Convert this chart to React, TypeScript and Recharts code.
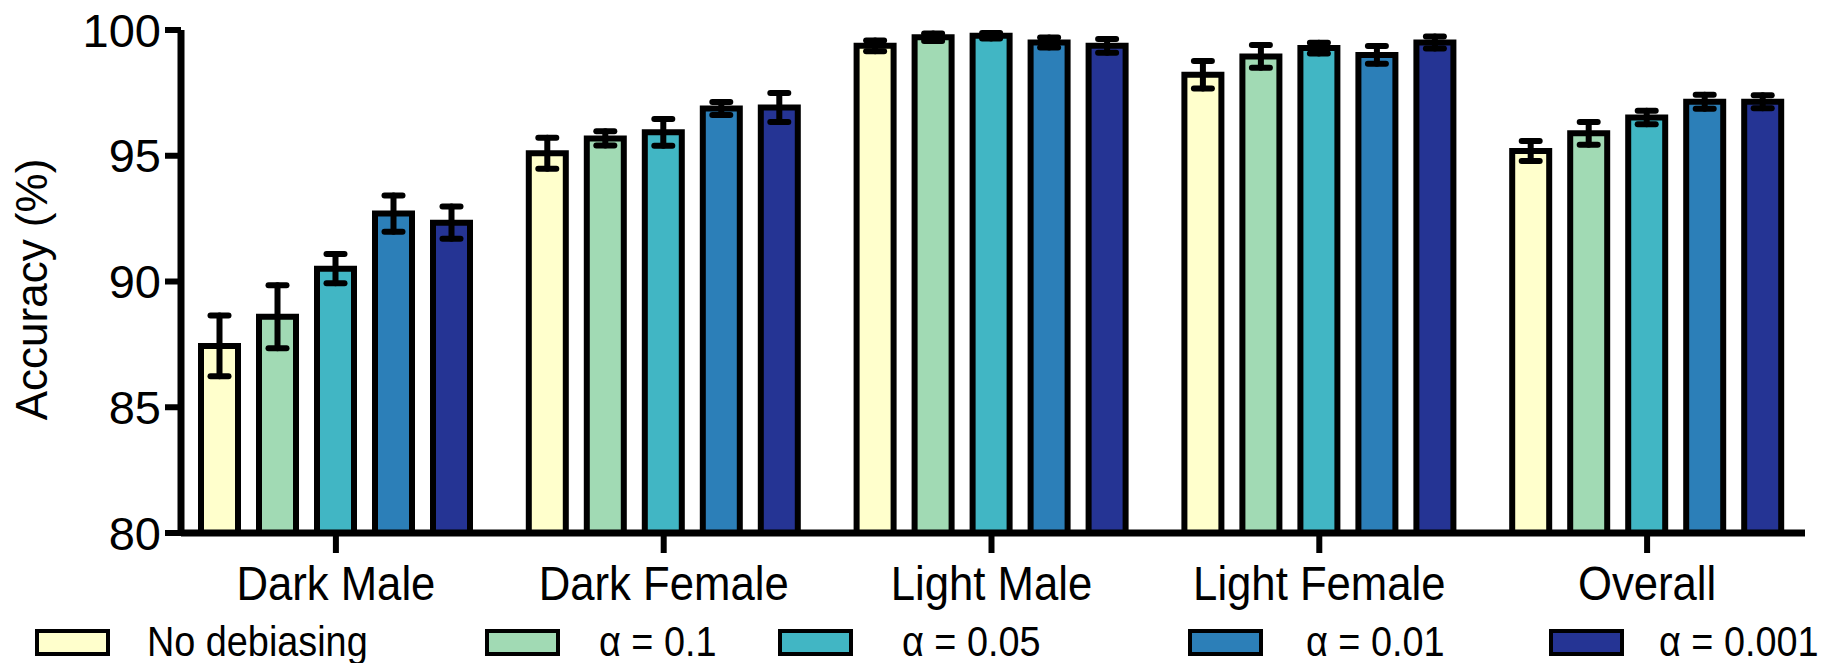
import React from 'react';
import { BarChart, Bar, XAxis, YAxis, ErrorBar, Legend } from 'recharts';

const categories = ['Dark Male', 'Dark Female', 'Light Male', 'Light Female', 'Overall'];
const seriesNames = ['No debiasing', 'α = 0.1', 'α = 0.05', 'α = 0.01', 'α = 0.001'];
const seriesKeys = ['s0', 's1', 's2', 's3', 's4'];

const noDebiasing = [87.44, 95.1, 99.37, 98.22, 95.19];
const noDebiasingErr = [1.21, 0.62, 0.21, 0.55, 0.4];
const alpha0_1 = [88.6, 95.69, 99.71, 98.95, 95.89];
const alpha0_1Err = [1.25, 0.28, 0.15, 0.45, 0.45];
const alpha0_05 = [90.51, 95.93, 99.77, 99.28, 96.52];
const alpha0_05Err = [0.58, 0.53, 0.11, 0.21, 0.27];
const alpha0_01 = [92.7, 96.88, 99.5, 99.01, 97.15];
const alpha0_01Err = [0.72, 0.26, 0.2, 0.35, 0.28];
const alpha0_001 = [92.34, 96.92, 99.37, 99.5, 97.15];
const alpha0_001Err = [0.64, 0.58, 0.27, 0.24, 0.26];

const yTicks = [80, 85, 90, 95, 100];
const colors = ['#ffffcc', '#a1dab4', '#41b6c4', '#2c7fb8', '#253494'];

const seriesValues = [noDebiasing, alpha0_1, alpha0_05, alpha0_01, alpha0_001];
const seriesErrors = [noDebiasingErr, alpha0_1Err, alpha0_05Err, alpha0_01Err, alpha0_001Err];

const data = categories.map((c, i) => {
  const row: Record<string, any> = { name: c };
  seriesKeys.forEach((k, j) => {
    row[k] = seriesValues[j][i];
    row[k + 'e'] = seriesErrors[j][i];
  });
  return row;
});

const FONT = "'Liberation Sans', Arial, Helvetica, sans-serif";
const LEGEND_SWATCH_X = [35, 485, 778, 1188, 1549];
const LEGEND_TEXT_X = [147, 599, 902, 1306, 1659];

function LegendContent() {
  return (
    <div style={{ position: 'relative', width: 1841, height: 40 }}>
      {seriesNames.map((n, i) => (
        <React.Fragment key={n}>
          <div
            style={{
              position: 'absolute',
              left: LEGEND_SWATCH_X[i],
              top: 6,
              width: 67,
              height: 19,
              border: '4px solid #000',
              background: colors[i],
            }}
          />
          <span
            style={{
              position: 'absolute',
              left: LEGEND_TEXT_X[i],
              top: -1,
              whiteSpace: 'nowrap',
              fontSize: 42,
              fontFamily: FONT,
              lineHeight: '40px',
              color: '#000',
              transform: 'scaleX(0.9)',
              transformOrigin: 'left center',
            }}
          >
            {n}
          </span>
        </React.Fragment>
      ))}
    </div>
  );
}

const XTick = (props: any) => {
  const { x, y, payload } = props;
  return (
    <g transform={`translate(${x},${y})`}>
      <text
        x={0}
        y={0}
        dy="0.71em"
        textAnchor="middle"
        fontSize={48}
        fontFamily={FONT}
        fill="#000"
        transform="scale(0.91,1)"
      >
        {payload.value}
      </text>
    </g>
  );
};

const YLabel = (props: any) => {
  const vb = props.viewBox || { x: 0, y: 0, width: 0, height: 0 };
  const cx = vb.x + 31;
  const cy = vb.y + vb.height / 2 + 8;
  return (
    <text
      x={cx}
      y={cy}
      transform={`rotate(-90 ${cx} ${cy})`}
      textAnchor="middle"
      dominantBaseline="central"
      fontSize={44}
      fontFamily={FONT}
      fill="#000"
    >
      Accuracy (%)
    </text>
  );
};

export default function App() {
  return (
    <div style={{ position: 'absolute', left: 0, top: 0, width: 1841, height: 663, background: '#fff' }}>
      <BarChart
        width={1841}
        height={663}
        data={data}
        margin={{ top: 30, right: 36, bottom: 60, left: 0 }}
        barSize={37}
        barGap={21}
      >
        <XAxis
          dataKey="name"
          height={70}
          padding={{ left: -9, right: -6 }}
          axisLine={{ stroke: '#000', strokeWidth: 7 }}
          tickLine={{ stroke: '#000', strokeWidth: 6 }}
          tickSize={20}
          tickMargin={13}
          tick={<XTick />}
        />
        <YAxis
          width={181}
          domain={[80, 100]}
          ticks={yTicks}
          allowDataOverflow
          axisLine={{ stroke: '#000', strokeWidth: 7 }}
          tickLine={{ stroke: '#000', strokeWidth: 6 }}
          tickSize={16}
          tickMargin={4}
          tick={{ fontSize: 47, fill: '#000', fontFamily: FONT }}
          label={{ content: YLabel }}
        />
        <Legend
          layout="horizontal"
          verticalAlign="middle"
          align="center"
          content={LegendContent}
          wrapperStyle={{ position: 'absolute', left: 0, top: 623, width: 1841, height: 40 }}
        />
        {seriesKeys.map((k, i) => (
          <Bar
            key={k}
            dataKey={k}
            name={seriesNames[i]}
            fill={colors[i]}
            stroke="#000"
            strokeWidth={6}
            isAnimationActive={false}
          >
            <ErrorBar dataKey={k + 'e'} width={9} stroke="#000" strokeWidth={6} strokeLinecap="round" direction="y" />
          </Bar>
        ))}
      </BarChart>
    </div>
  );
}
